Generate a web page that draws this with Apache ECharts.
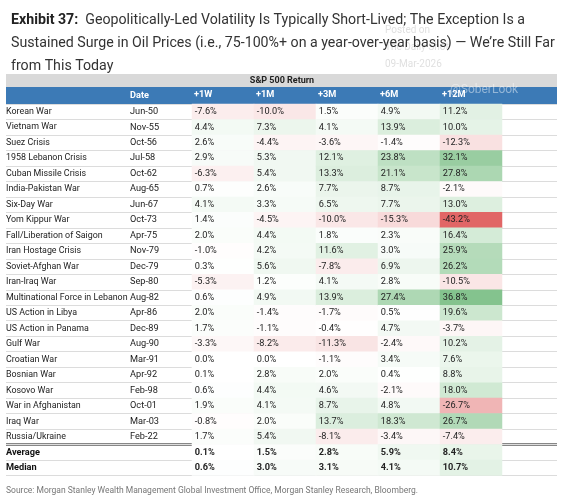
<!DOCTYPE html>
<html><head><meta charset="utf-8">
<script src="https://cdn.jsdelivr.net/npm/echarts@6/dist/echarts.min.js"></script>
<style>html,body{margin:0;padding:0;background:#fff}#c{width:564px;height:504px}</style>
</head><body><div id="c"></div>
<script>
const events = ["Korean War","Vietnam War","Suez Crisis","1958 Lebanon Crisis","Cuban Missile Crisis","India-Pakistan War","Six-Day War","Yom Kippur War","Fall/Liberation of Saigon","Iran Hostage Crisis","Soviet-Afghan War","Iran-Iraq War","Multinational Force in Lebanon","US Action in Libya","US Action in Panama","Gulf War","Croatian War","Bosnian War","Kosovo War","War in Afghanistan","Iraq War","Russia/Ukraine","Average","Median"];
const dates = ["Jun-50","Nov-55","Oct-56","Jul-58","Oct-62","Aug-65","Jun-67","Oct-73","Apr-75","Nov-79","Dec-79","Sep-80","Aug-82","Apr-86","Dec-89","Aug-90","Mar-91","Apr-92","Feb-98","Oct-01","Mar-03","Feb-22","",""];
const horizons = ["+1W","+1M","+3M","+6M","+12M",""];
const w1  = [-7.6,4.4,2.6,2.9,-6.3,0.7,4.1,1.4,2.0,-1.0,0.3,-5.3,0.6,2.0,1.7,-3.3,0.0,0.1,0.6,1.9,-0.8,1.7,0.1,0.6];
const m1  = [-10.0,7.3,-4.4,5.3,5.4,2.6,3.3,-4.5,4.4,4.2,5.6,1.2,4.9,-1.4,-1.1,-8.2,0.0,2.8,4.4,4.1,2.0,5.4,1.5,3.0];
const m3  = [1.5,4.1,-3.6,12.1,13.3,7.7,6.5,-10.0,1.8,11.6,-7.8,4.1,13.9,-1.7,-0.4,-11.3,-1.1,2.0,4.6,8.7,13.7,-8.1,2.8,3.1];
const m6  = [4.9,13.9,-1.4,23.8,21.1,8.7,7.7,-15.3,2.3,3.0,6.9,2.8,27.4,0.5,4.7,-2.4,3.4,0.4,-2.1,4.8,18.3,-3.4,5.9,4.1];
const m12 = [11.2,10.0,-12.3,32.1,27.8,-2.1,13.0,-43.2,16.4,25.9,26.2,-10.5,36.8,19.6,-3.7,10.2,7.6,8.8,18.0,-26.7,26.7,-7.4,8.4,10.7];

const cols=[w1,m1,m3,m6,m12];
const data=[];
cols.forEach((c,ci)=>c.forEach((v,ri)=>{
  const bold = ri>=22;
  data.push({value:[ci,ri,v],label:{fontWeight:bold?'bold':'normal'}});
}));
const rowLabels = events.map((e,i)=>e+'|'+dates[i]);
const font='Roboto';
const FS=9.2;
const chart=echarts.init(document.getElementById('c'));
const ROWSEP='#dcdcdc';
chart.setOption({
  animation:false,
  textStyle:{fontFamily:font},
  title:{left:6,top:4,text:'{b|Exhibit 37:}  Geopolitically-Led Volatility Is Typically Short-Lived; The Exception Is a\nSustained Surge in Oil Prices (i.e., 75-100%+ on a year-over-year basis) — We’re Still Far\nfrom This Today',
    textStyle:{fontFamily:font,fontSize:14.2,fontWeight:'normal',color:'#333',lineHeight:23,
      rich:{b:{fontFamily:font,fontSize:14.2,fontWeight:'bold',color:'#222',lineHeight:23}}}},
  graphic:[
    {type:'rect',shape:{x:6,y:74,width:551,height:13},style:{fill:'#d9d9d9'}},
    {type:'text',x:282,y:80.5,style:{text:'S&P 500 Return',fontFamily:font,fontSize:9,fontWeight:'bold',fill:'#222',align:'center',verticalAlign:'middle'}},
    {type:'rect',shape:{x:6,y:87,width:551,height:17},style:{fill:'#3c7ab6'}},
    {type:'text',x:130,y:96,style:{text:'Date',fontFamily:font,fontSize:FS,fontWeight:'bold',fill:'#fff',verticalAlign:'middle'}},
    {type:'text',x:385,y:22,style:{text:'Posted on\nThe Daily Shot\n09-Mar-2026',fontFamily:font,fontSize:10,lineHeight:17,fill:'rgba(150,150,150,0.3)'}},
    {type:'text',x:450,y:84,style:{text:'@SoberLook',fontFamily:font,fontSize:12,fill:'rgba(255,255,255,0.45)'}},
    {type:'text',x:6,y:491,style:{text:'Source: Morgan Stanley Wealth Management Global Investment Office, Morgan Stanley Research, Bloomberg.',fontFamily:font,fontSize:8.5,fill:'#777',verticalAlign:'middle'}}
  ],
  grid:[
    {left:192,top:104,width:387,height:371.5},
    {left:6,top:104,width:186,height:371.5}
  ],
  xAxis:[
    {type:'category',gridIndex:0,data:horizons,position:'top',axisLine:{show:false},axisTick:{show:false},splitLine:{show:false},
     axisLabel:{interval:0,margin:5,formatter:v=>'{a|'+v+'}',rich:{a:{width:58,align:'left',color:'#fff',fontWeight:'bold',fontSize:FS,fontFamily:font}}}},
    {type:'value',gridIndex:1,show:false,min:0,max:1}
  ],
  yAxis:[
    {type:'category',gridIndex:0,data:rowLabels,inverse:true,axisLabel:{show:false,interval:0},axisLine:{show:false},axisTick:{show:false,interval:0},
     splitLine:{show:true,interval:0,lineStyle:{color:ROWSEP,width:1}}},
    {type:'category',gridIndex:1,data:rowLabels,inverse:true,axisLine:{show:false},axisTick:{show:false,interval:0},
     splitLine:{show:true,interval:0,lineStyle:{color:ROWSEP,width:1}},
     axisLabel:{interval:0,inside:true,margin:0,formatter:(v,i)=>{const p=v.split('|');const s=i>=22?'B':'';return '{n'+s+'|'+p[0]+'}{d|'+p[1]+'}';},
       rich:{n:{width:124,fontSize:8.9,color:'#222',fontFamily:font},nB:{width:124,fontSize:FS,color:'#111',fontWeight:'bold',fontFamily:font},d:{width:60,fontSize:FS,color:'#222',fontFamily:font}}}}
  ],
  visualMap:{show:false,type:'continuous',min:-45,max:45,dimension:2,seriesIndex:0,
    inRange:{color:['#df5d5d','#f4c9c9','#ffffff','#c4e3c8','#5fb06c']}},
  series:[{type:'heatmap',xAxisIndex:0,yAxisIndex:0,data:data,
    itemStyle:{borderWidth:0},
    label:{show:true,position:'insideLeft',distance:3,fontSize:FS,color:'#222',fontFamily:font,formatter:p=>p.value[2].toFixed(1)+'%'}}]
});
const y=chart.convertToPixel({gridIndex:0},[0,22])[1]-371.5/24/2;
chart.setOption({graphic:[{},{},{},{},{},{},{},{type:'line',shape:{x1:6,y1:y,x2:557,y2:y},style:{stroke:'#111',lineWidth:2}},
  {type:'rect',shape:{x:557,y:74,width:10,height:402},style:{fill:'#fff'},z:10}]});
</script></body></html>
